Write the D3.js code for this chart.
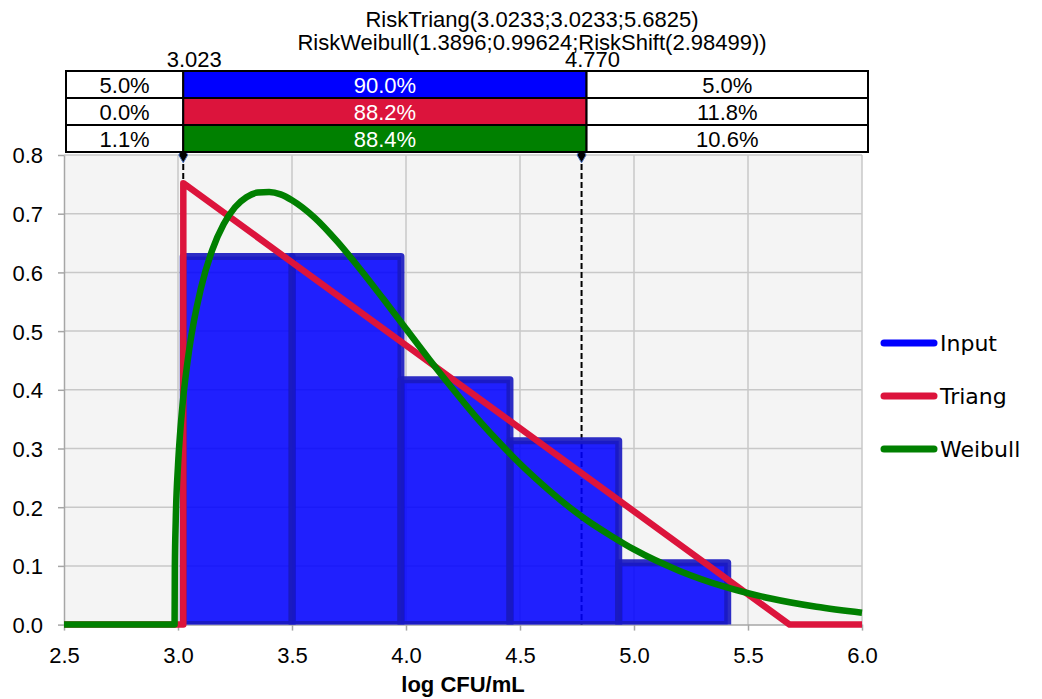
<!DOCTYPE html>
<html>
<head>
<meta charset="utf-8">
<script src="https://cdn.jsdelivr.net/npm/d3@7"></script>
<style>
  html, body { margin: 0; padding: 0; background: #ffffff; }
  svg { display: block; }
</style>
</head>
<body>
<svg id="chart" width="1042" height="699"></svg>
<script>
// ---------------- DATA ----------------
const titleLines = ["RiskTriang(3.0233;3.0233;5.6825)", "RiskWeibull(1.3896;0.99624;RiskShift(2.98499))"];
const xTicks = [2.5, 3.0, 3.5, 4.0, 4.5, 5.0, 5.5, 6.0];
const yTicks = [0.0, 0.1, 0.2, 0.3, 0.4, 0.5, 0.6, 0.7, 0.8];
const xLabel = "log CFU/mL";

// Input histogram (bin edges and density)
const binEdges = [3.023, 3.5006, 3.978, 4.456, 4.933, 5.411];
const binDensity = [0.627, 0.627, 0.417, 0.313, 0.1055];

// Triang fitted density (points along the curve)
const triangX = [2.5, 3.0233, 3.0233, 5.6825, 6.0];
const triangY = [0.0, 0.0, 0.752, 0.0, 0.0];

// Weibull fitted density
const weibullX = [2.5, 2.98499, 2.986, 2.99, 3.0, 3.01, 3.02, 3.05, 3.1, 3.15, 3.2, 3.25, 3.3, 3.35, 3.4, 3.45, 3.5,
  3.6, 3.7, 3.8, 3.9, 4.0, 4.1, 4.2, 4.3, 4.4, 4.5, 4.6, 4.7, 4.8, 4.9, 5.0, 5.2, 5.4, 5.6, 5.8, 6.0];
const weibullY = [0.0, 0.0, 0.095, 0.177, 0.271, 0.330, 0.375, 0.471, 0.572, 0.638, 0.682, 0.711, 0.728, 0.736, 0.737, 0.733, 0.723,
  0.693, 0.652, 0.605, 0.555, 0.504, 0.453, 0.404, 0.357, 0.314, 0.274, 0.238, 0.205, 0.176, 0.151, 0.128, 0.0915, 0.0642, 0.0444, 0.0303, 0.0203];

// Delimiters and probability table
const delimiters = [3.023, 4.770];
const delimiterLabels = ["3.023", "4.770"];
const seriesNames = ["Input", "Triang", "Weibull"];
const seriesColors = ["#0000ff", "#dc143c", "#008000"];
const leftPct = ["5.0%", "0.0%", "1.1%"];
const midPct = ["90.0%", "88.2%", "88.4%"];
const rightPct = ["5.0%", "11.8%", "10.6%"];

// ---------------- LAYOUT ----------------
const svg = d3.select("#chart");
const plot = { left: 64, right: 862, top: 155, bottom: 624.6 };
const x = d3.scaleLinear().domain([2.5, 6.0]).range([plot.left, plot.right]);
const y = d3.scaleLinear().domain([0, 0.8]).range([plot.bottom, plot.top]);
const fontMain = "'Liberation Sans', Arial, sans-serif";
const fontLegend = "'DejaVu Sans', Verdana, sans-serif";

// clip
svg.append("defs").append("clipPath").attr("id", "plotclip")
  .append("rect").attr("x", plot.left).attr("y", plot.top - 4)
  .attr("width", plot.right - plot.left + 4).attr("height", plot.bottom - plot.top + 4);

// plot background
svg.append("rect").attr("x", plot.left).attr("y", plot.top)
  .attr("width", plot.right - plot.left).attr("height", plot.bottom - plot.top)
  .attr("fill", "#f4f4f4");

// grid
const grid = svg.append("g").attr("stroke", "#c8c8c8").attr("stroke-width", 1.5);
grid.selectAll("line.v").data(xTicks.slice(1)).enter().append("line")
  .attr("x1", d => x(d)).attr("x2", d => x(d)).attr("y1", plot.top).attr("y2", plot.bottom);
grid.selectAll("line.h").data(yTicks.slice(1)).enter().append("line")
  .attr("x1", plot.left).attr("x2", plot.right).attr("y1", d => y(d)).attr("y2", d => y(d));

// axes
const xAxis = d3.axisBottom(x).tickValues(xTicks).tickFormat(d3.format(".1f")).tickSize(6).tickSizeOuter(0);
const gx = svg.append("g").attr("transform", `translate(0,${plot.bottom})`).call(xAxis);
gx.select(".domain").attr("stroke", "#a6a6a6").attr("stroke-width", 1.5);
gx.selectAll(".tick line").attr("stroke", "#a6a6a6").attr("stroke-width", 1.5);
gx.selectAll(".tick text").attr("font-family", fontMain).attr("font-size", 22).attr("fill", "#000")
  .attr("y", 38).attr("dy", 0);

const yAxis = d3.axisLeft(y).tickValues(yTicks).tickFormat(d3.format(".1f")).tickSize(6).tickSizeOuter(0);
const gy = svg.append("g").attr("transform", `translate(${plot.left},0)`).call(yAxis);
gy.select(".domain").attr("stroke", "#a6a6a6").attr("stroke-width", 1.5);
gy.selectAll(".tick line").attr("stroke", "#a6a6a6").attr("stroke-width", 1.5);
gy.selectAll(".tick text").attr("font-family", fontMain).attr("font-size", 22).attr("fill", "#000")
  .attr("x", -21).attr("dy", "0.36em");

// x label
svg.append("text").attr("x", (plot.left + plot.right) / 2).attr("y", 692)
  .attr("text-anchor", "middle").attr("font-family", fontMain)
  .attr("font-weight", "bold").attr("font-size", 22).text(xLabel);

// delimiter dashed lines (below bars)
svg.append("g").selectAll("line").data(delimiters).enter().append("line")
  .attr("x1", d => x(d)).attr("x2", d => x(d)).attr("y1", plot.top).attr("y2", plot.bottom)
  .attr("stroke", "#000").attr("stroke-width", 2).attr("stroke-dasharray", "6,3");

// histogram bars
const bars = binDensity.map((v, i) => ({ x0: binEdges[i], x1: binEdges[i + 1], v }));
svg.append("g").attr("clip-path", "url(#plotclip)").selectAll("rect").data(bars).enter().append("rect")
  .attr("x", d => x(d.x0)).attr("width", d => x(d.x1) - x(d.x0))
  .attr("y", d => y(d.v)).attr("height", d => y(0) - y(d.v))
  .attr("fill", "#0000ff").attr("fill-opacity", 0.87)
  .attr("stroke", "#1a1ac0").attr("stroke-opacity", 0.92).attr("stroke-width", 7)
  .attr("stroke-linejoin", "round");

// lines
const line = d3.line().x(d => x(d[0])).y(d => y(d[1]));
const triang = triangX.map((v, i) => [v, triangY[i]]);
const weibull = weibullX.map((v, i) => [v, weibullY[i]]);
svg.append("path").datum(triang).attr("d", line).attr("fill", "none")
  .attr("stroke", seriesColors[1]).attr("stroke-width", 6.5).attr("stroke-linejoin", "round");
svg.append("path").datum(weibull).attr("d", line.curve(d3.curveMonotoneX)).attr("fill", "none")
  .attr("stroke", seriesColors[2]).attr("stroke-width", 6.5).attr("stroke-linejoin", "round");

// diamond markers
svg.append("g").selectAll("path").data(delimiters).enter().append("path")
  .attr("transform", d => `translate(${x(d)},${plot.top})`)
  .attr("d", d3.symbol().type(d3.symbolDiamond).size(70))
  .attr("fill", "#000").attr("stroke", "#4a72c0").attr("stroke-width", 1);

// table
const tbl = { left: 66, right: 868, top: 71, rowH: 27 };
const cLeft = x(delimiters[0]);
const cRight = x(delimiters[1]) + 5;
const tg = svg.append("g");
seriesNames.forEach((s, i) => {
  const ty = tbl.top + i * tbl.rowH;
  tg.append("rect").attr("x", tbl.left).attr("y", ty).attr("width", cLeft - tbl.left).attr("height", tbl.rowH)
    .attr("fill", "#fff").attr("stroke", "#000").attr("stroke-width", 2);
  tg.append("rect").attr("x", cLeft).attr("y", ty).attr("width", cRight - cLeft).attr("height", tbl.rowH)
    .attr("fill", seriesColors[i]).attr("stroke", "#000").attr("stroke-width", 2);
  tg.append("rect").attr("x", cRight).attr("y", ty).attr("width", tbl.right - cRight).attr("height", tbl.rowH)
    .attr("fill", "#fff").attr("stroke", "#000").attr("stroke-width", 2);
  const cy = ty + 21.5;
  tg.append("text").attr("x", (tbl.left + cLeft) / 2).attr("y", cy).attr("text-anchor", "middle")
    .attr("font-family", fontMain).attr("font-size", 22).attr("fill", "#000").text(leftPct[i]);
  tg.append("text").attr("x", (cLeft + cRight) / 2).attr("y", cy).attr("text-anchor", "middle")
    .attr("font-family", fontMain).attr("font-size", 22).attr("fill", "#fff").text(midPct[i]);
  tg.append("text").attr("x", (cRight + tbl.right) / 2).attr("y", cy).attr("text-anchor", "middle")
    .attr("font-family", fontMain).attr("font-size", 22).attr("fill", "#000").text(rightPct[i]);
});

// delimiter labels
svg.append("g").selectAll("text").data(delimiters).enter().append("text")
  .attr("x", (d, i) => x(d) + 11).attr("y", 67).attr("text-anchor", "middle")
  .attr("font-family", fontMain).attr("font-size", 22).attr("fill", "#000")
  .text((d, i) => delimiterLabels[i]);

// title
svg.append("g").selectAll("text").data(titleLines).enter().append("text")
  .attr("x", 532).attr("y", (d, i) => 27 + i * 23).attr("text-anchor", "middle")
  .attr("font-family", fontMain).attr("font-size", 22).attr("fill", "#000").text(d => d);

// legend
const lg = svg.append("g");
seriesNames.forEach((s, i) => {
  const ly = 343 + i * 53;
  lg.append("line").attr("x1", 884).attr("x2", 934).attr("y1", ly).attr("y2", ly)
    .attr("stroke", seriesColors[i]).attr("stroke-width", 7).attr("stroke-linecap", "round");
  lg.append("text").attr("x", 940).attr("y", ly + 8).attr("font-family", fontLegend)
    .attr("font-size", 22).attr("fill", "#000").text(s);
});
</script>
</body>
</html>
